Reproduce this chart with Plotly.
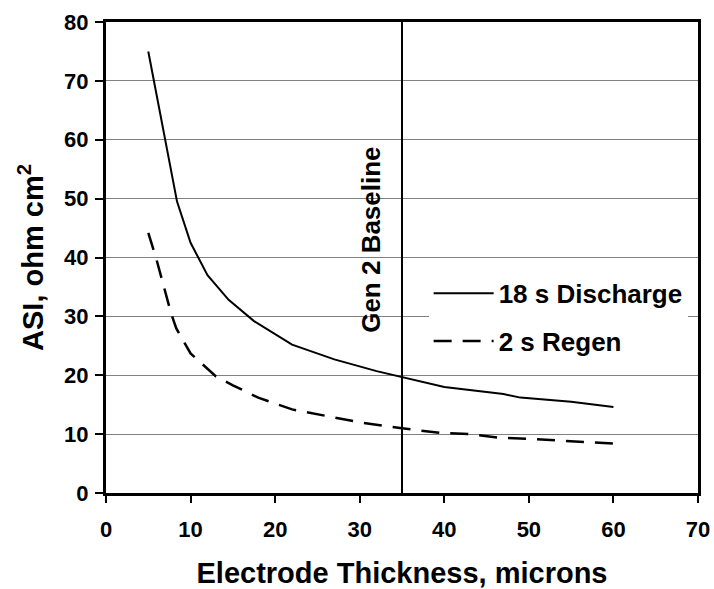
import plotly.graph_objects as go

# Data
discharge_x = [5, 5.6, 7, 8.4, 10, 12, 14.5, 17.5, 22, 27, 32, 35, 40, 47, 49, 55, 60]
discharge_y = [75, 70.5, 60, 49.5, 42.5, 37, 32.8, 29.2, 25.2, 22.7, 20.7, 19.7, 18, 16.8, 16.2, 15.5, 14.6]

regen_x = [5, 6, 7.7, 8.3, 10, 12, 13, 15, 18, 22, 27, 30, 35, 39.5, 43, 46.5, 50, 60]
regen_y = [44.2, 39.5, 30.5, 28, 23.7, 21, 19.8, 18.3, 16.2, 14.2, 12.8, 12, 11, 10.2, 10, 9.4, 9.2, 8.4]

baseline_x = 35
baseline_label = "Gen 2 Baseline"
series_names = ["18 s Discharge", "2 s Regen"]

x_ticks = [0, 10, 20, 30, 40, 50, 60, 70]
y_ticks = [0, 10, 20, 30, 40, 50, 60, 70, 80]

FONT = "Liberation Sans, Arial, sans-serif"


def b(s):
    return "<b>" + s + "</b>"


fig = go.Figure()
fig.add_trace(go.Scatter(
    x=discharge_x, y=discharge_y, mode="lines", name=b(series_names[0]),
    line=dict(color="black", width=2), legendgroup="a"))
fig.add_trace(go.Scatter(
    x=regen_x, y=regen_y, mode="lines", name=b(series_names[1]),
    line=dict(color="black", width=2.5, dash="18px,11px"), legendgroup="b"))
fig.add_trace(go.Scatter(
    x=[baseline_x, baseline_x], y=[y_ticks[0], y_ticks[-1]], mode="lines",
    line=dict(color="black", width=2), showlegend=False, hoverinfo="skip"))

fig.add_annotation(
    x=baseline_x, y=43, xref="x", yref="y", text=b(baseline_label),
    textangle=-90, showarrow=False, xanchor="right", yanchor="middle",
    xshift=-14, font=dict(family=FONT, size=26, color="black"))

fig.update_layout(
    width=714, height=589,
    margin=dict(l=106, r=16, t=22, b=96, autoexpand=False),
    paper_bgcolor="white", plot_bgcolor="white",
    font=dict(family=FONT, color="black"),
    showlegend=True,
    legend=dict(
        x=0.545, y=0.474, xanchor="left", yanchor="top",
        bgcolor="white", borderwidth=0,
        font=dict(family=FONT, size=26, color="black"),
        traceorder="grouped", tracegroupgap=11, itemwidth=60,
    ),
)

fig.update_xaxes(
    range=[0, 70], tickvals=x_ticks, ticktext=[b(str(v)) for v in x_ticks],
    showgrid=False, zeroline=False,
    showline=True, linecolor="black", linewidth=3, mirror=True,
    ticks="outside", ticklen=7, tickwidth=2, tickcolor="black",
    ticklabelstandoff=8,
    tickfont=dict(family=FONT, size=22, color="black"),
    title=dict(text=b("Electrode Thickness, microns"), standoff=24,
               font=dict(family=FONT, size=29, color="black")),
)
fig.update_yaxes(
    range=[0, 80], tickvals=y_ticks, ticktext=[b(str(v)) for v in y_ticks],
    showgrid=True, gridcolor="#808080", gridwidth=1, zeroline=False,
    showline=True, linecolor="black", linewidth=3, mirror=True,
    ticks="outside", ticklen=8, tickwidth=2, tickcolor="black",
    ticklabelstandoff=2,
    tickfont=dict(family=FONT, size=22, color="black"),
    title=dict(text=b("ASI, ohm cm<sup>2</sup>"), standoff=12,
               font=dict(family=FONT, size=29, color="black")),
)

fig.write_html("out.html")
